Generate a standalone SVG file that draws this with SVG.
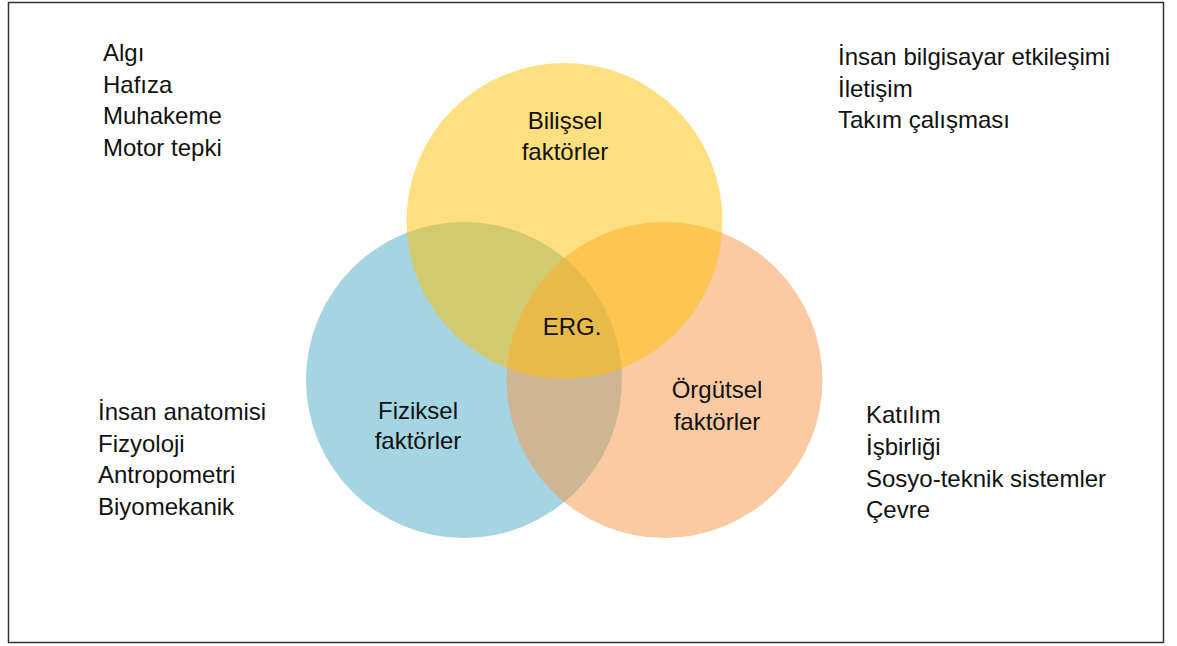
<svg xmlns="http://www.w3.org/2000/svg" width="1177" height="646" viewBox="0 0 1177 646">
<style>
text{font-family:"Liberation Sans",Arial,sans-serif;font-size:24px;fill:#111}
.c{text-anchor:middle}
.v{opacity:0.5}
</style>
<rect x="8.5" y="2.5" width="1155" height="640" fill="#fff" stroke="#333" stroke-width="1.5"/>
<g id="circle-fiziksel"><circle class="v" cx="464" cy="380" r="158" fill="#4BACC6"/></g>
<g id="circle-orgutsel"><circle class="v" cx="664.5" cy="380" r="158" fill="#F79646" opacity="0.47"/></g>
<g id="circle-bilissel"><circle class="v" cx="564.5" cy="221" r="158" fill="#FFC000"/></g>
<g id="connectors"></g>
<g id="label-bilissel"><text class="c" x="565" y="129">Bilişsel</text><text class="c" x="565" y="160">faktörler</text></g>
<g id="label-fiziksel"><text class="c" x="418" y="419">Fiziksel</text><text class="c" x="418" y="449">faktörler</text></g>
<g id="label-orgutsel"><text class="c" x="717" y="398">Örgütsel</text><text class="c" x="717" y="430">faktörler</text></g>
<g id="label-erg"><text class="c" x="572" y="335">ERG.</text></g>
<g id="list-bilissel"><text x="103" y="61">Algı</text><text x="103" y="93">Hafıza</text><text x="103" y="124">Muhakeme</text><text x="103" y="156">Motor tepki</text></g>
<g id="list-orgutsel-top"><text x="838" y="65">İnsan bilgisayar etkileşimi</text><text x="838" y="97">İletişim</text><text x="838" y="128">Takım çalışması</text></g>
<g id="list-fiziksel"><text x="98" y="420">İnsan anatomisi</text><text x="98" y="452">Fizyoloji</text><text x="98" y="483">Antropometri</text><text x="98" y="515">Biyomekanik</text></g>
<g id="list-orgutsel"><text x="866" y="423">Katılım</text><text x="866" y="455">İşbirliği</text><text x="866" y="487">Sosyo-teknik sistemler</text><text x="866" y="518">Çevre</text></g>
</svg>
